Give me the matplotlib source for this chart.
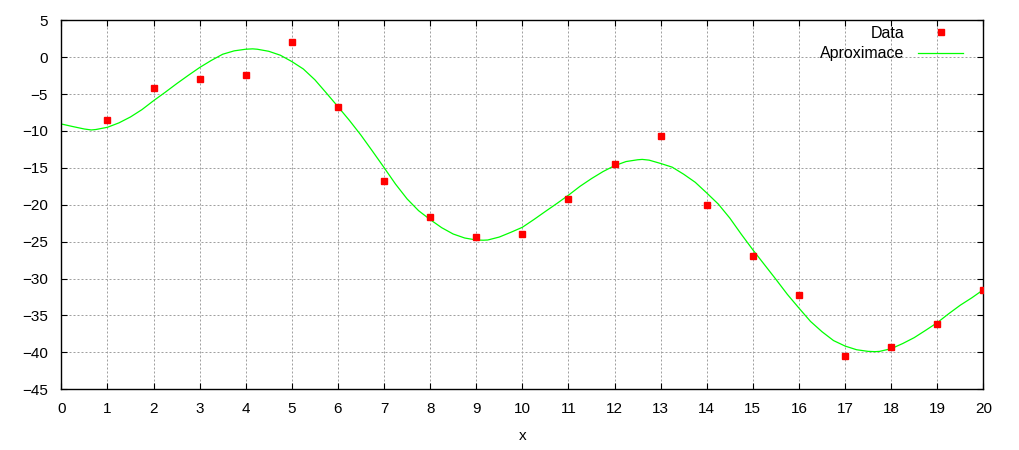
import matplotlib
matplotlib.use("Agg")
import matplotlib.pyplot as plt

plt.rcParams['font.family'] = ['Liberation Sans', 'DejaVu Sans']

# measured points
data_x = [1, 2, 3, 4, 5, 6, 7, 8, 9, 10, 11, 12, 13, 14, 15, 16, 17, 18, 19, 20]
data_y = [-8.51, -4.19, -2.97, -2.43, 2.03, -6.76, -16.76, -21.65, -24.37, -23.98,
          -19.2, -14.45, -10.7, -20.05, -27.0, -32.2, -40.45, -39.23, -36.1, -31.5]

# approximation curve
fit_x = [0, 0.25, 0.5, 0.65, 0.75, 1, 1.25, 1.5, 1.75, 2, 2.25, 2.5, 2.75, 3, 3.25, 3.5,
         3.75, 4, 4.15, 4.25, 4.5, 4.75, 5, 5.25, 5.5, 5.75, 6, 6.25, 6.5, 6.75, 7,
         7.25, 7.5, 7.75, 8, 8.25, 8.5, 8.75, 9, 9.15, 9.25, 9.5, 9.75, 10, 10.25, 10.5,
         10.75, 11, 11.25, 11.5, 11.75, 12, 12.25, 12.5, 12.6, 12.75, 13, 13.25, 13.5,
         13.75, 14, 14.25, 14.5, 14.75, 15, 15.25, 15.5, 15.75, 16, 16.25, 16.5, 16.75,
         17, 17.25, 17.5, 17.65, 17.75, 18, 18.25, 18.5, 18.75, 19, 19.25, 19.5, 19.75, 20]
fit_y = [-9.05, -9.4, -9.73, -9.86, -9.8, -9.5, -8.9, -8.1, -7.1, -5.9, -4.77, -3.6, -2.48,
         -1.4, -0.45, 0.4, 0.86, 1.08, 1.13, 1.08, 0.8, 0.27, -0.59, -1.6, -3.06, -4.86,
         -6.7, -8.57, -10.57, -12.74, -14.95, -17.2, -19.2, -20.8, -22.0, -23.1, -23.96,
         -24.5, -24.77, -24.8, -24.77, -24.37, -23.73, -23.05, -22.0, -20.9, -19.82, -18.7,
         -17.5, -16.45, -15.5, -14.7, -14.14, -13.9, -13.85, -13.95, -14.4, -14.9, -15.86,
         -16.95, -18.4, -19.9, -21.8, -24.0, -26.1, -28.1, -30.1, -32.15, -34.0, -35.8,
         -37.2, -38.4, -39.14, -39.64, -39.86, -39.9, -39.86, -39.5, -38.8, -38.0, -37.0,
         -35.97, -34.75, -33.6, -32.6, -31.5]

x_ticks = list(range(0, 21))
y_ticks = list(range(-45, 6, 5))

fig = plt.figure(figsize=(10.2, 4.5), dpi=100)
ax = fig.add_axes([0.0601, 0.1349, 0.904, 0.82])

ax.plot(data_x, data_y, linestyle='none', marker='s', markersize=4.2,
        color='#ff0000', label='Data', zorder=3)
ax.plot(fit_x, fit_y, color='#00ff00', lw=0.9, label='Aproximace', zorder=2)

ax.set_xlim(0, 20)
ax.set_ylim(-45, 5)
ax.set_xticks(x_ticks)
ax.set_yticks(y_ticks)
ax.grid(True, color='#a0a0a0', linestyle=(0, (2, 2)), lw=0.72)
ax.tick_params(direction='in', length=4, width=0.8, top=True, right=True,
               labelsize=11, pad=9.5)
ax.tick_params(axis='y', pad=9.5)
for s in ax.spines.values():
    s.set_linewidth(1.0)
ax.set_xlabel('x', fontsize=11, labelpad=9)

# legend: right edge ~963 px, top ~26 px from the top of the figure
ax.legend(loc='upper right', bbox_to_anchor=(963 / 1020, 1 - 26 / 450),
          bbox_transform=fig.transFigure, frameon=False, markerfirst=False,
          fontsize=11.5, handlelength=2.8, handletextpad=0.85, borderpad=0,
          borderaxespad=0, labelspacing=0.33)

fig.savefig('out.png', dpi=100)
